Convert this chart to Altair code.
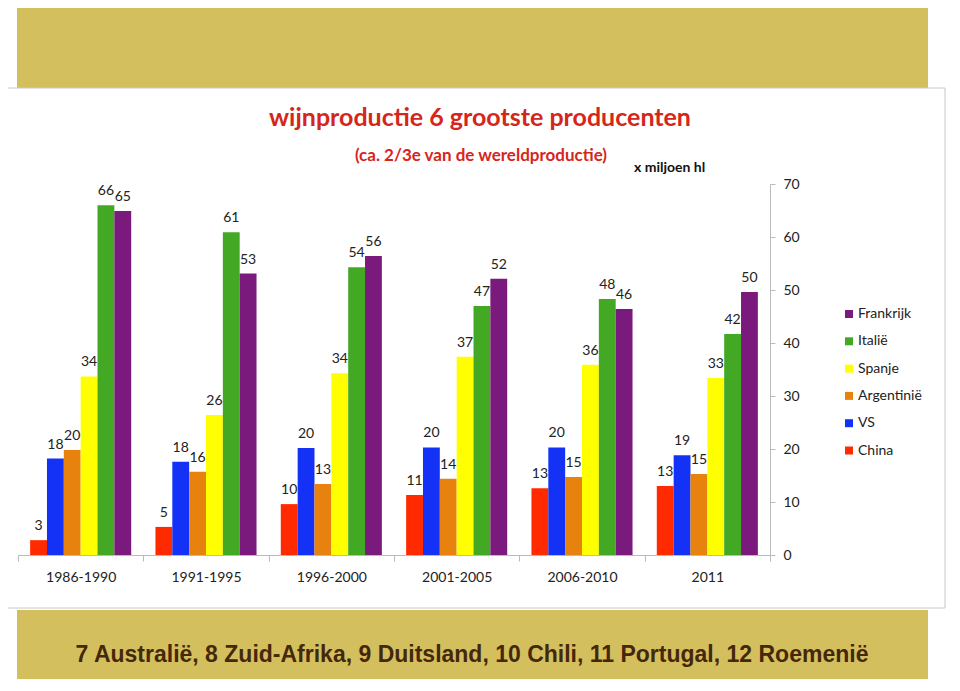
import altair as alt
import pandas as pd

periods = ["1986-1990", "1991-1995", "1996-2000", "2001-2005", "2006-2010", "2011"]
bar_order = ["China", "VS", "Argentinië", "Spanje", "Italië", "Frankrijk"]
legend_order = ["Frankrijk", "Italië", "Spanje", "Argentinië", "VS", "China"]
legend_colors = ["#7A1A7C", "#43A824", "#FFFF00", "#E8820E", "#1432F5", "#FF2A00"]

china = [2.8, 5.3, 9.6, 11.3, 12.6, 13.0]
vs = [18.2, 17.6, 20.2, 20.3, 20.3, 18.8]
argentinie = [19.8, 15.7, 13.4, 14.4, 14.7, 15.3]
spanje = [33.7, 26.4, 34.3, 37.4, 35.9, 33.4]
italie = [66.0, 60.9, 54.3, 47.0, 48.3, 41.7]
frankrijk = [64.9, 53.1, 56.4, 52.1, 46.4, 49.6]

series = {
    "China": china,
    "VS": vs,
    "Argentinië": argentinie,
    "Spanje": spanje,
    "Italië": italie,
    "Frankrijk": frankrijk,
}

title_text = "wijnproductie 6 grootste producenten"
subtitle_text = "(ca. 2/3e van de wereldproductie)"
unit_text = "x miljoen hl"
footer_text = "7 Australië, 8 Zuid-Afrika, 9 Duitsland, 10 Chili, 11 Portugal, 12 Roemenië"

rows = []
for country, vals in series.items():
    for p, v in zip(periods, vals):
        rows.append({"period": p, "country": country, "value": v})
df = pd.DataFrame(rows)

GOLD = "#D4BF5F"
FONT = "Lato"

W, H = 752, 371
PAD_L, PAD_T = 10, 176
TOTAL_W, TOTAL_H = 942, 671

one = pd.DataFrame({"k": [0]})

top_band = alt.Chart(one).mark_rect(color=GOLD).encode(
    x=alt.value(-1), x2=alt.value(910), y=alt.value(-180), y2=alt.value(-96)
)
panel = alt.Chart(one).mark_rect(fill="white", stroke="#C8C8C8", strokeWidth=1).encode(
    x=alt.value(-15), x2=alt.value(927), y=alt.value(-96), y2=alt.value(424)
)
bottom_band = alt.Chart(one).mark_rect(color=GOLD).encode(
    x=alt.value(-1), x2=alt.value(910), y=alt.value(426), y2=alt.value(520)
)

title = alt.Chart(one).mark_text(
    font=FONT, fontSize=25, fontWeight="bold", color="#D5261B", align="center", baseline="middle"
).encode(x=alt.value(462), y=alt.value(-66), text=alt.value(title_text))
subtitle = alt.Chart(one).mark_text(
    font=FONT, fontSize=17, fontWeight="bold", color="#D5261B", align="center", baseline="middle"
).encode(x=alt.value(463), y=alt.value(-28), text=alt.value(subtitle_text))
unit = alt.Chart(one).mark_text(
    font=FONT, fontSize=14, fontWeight="bold", color="#111111", align="left", baseline="middle"
).encode(x=alt.value(616), y=alt.value(-16), text=alt.value(unit_text))
footer = alt.Chart(one).mark_text(
    font="Liberation Sans", fontSize=23, fontWeight="bold",
    color="#45280A", align="center", baseline="middle"
).encode(x=alt.value(454), y=alt.value(471), text=alt.value(footer_text))

x_enc = alt.X(
    "period:N", sort=periods, title=None,
    scale=alt.Scale(paddingInner=0, paddingOuter=0),
    axis=alt.Axis(
        labelAngle=0, labelFont=FONT, labelFontSize=14, labelColor="#222222",
        labelPadding=9, domainColor="#BBBBBB", tickColor="#BBBBBB", tickSize=6,
        tickBand="extent", zindex=2,
    ),
)
xoff_enc = alt.XOffset(
    "country:N", sort=bar_order,
    scale=alt.Scale(paddingInner=0, paddingOuter=0.72),
)
y_enc = alt.Y(
    "value:Q", title=None,
    scale=alt.Scale(domain=[0, 70]),
    axis=alt.Axis(
        orient="right", values=list(range(0, 71, 10)), grid=False,
        labelFont=FONT, labelFontSize=14, labelColor="#222222", labelPadding=8,
        domainColor="#BBBBBB", tickColor="#BBBBBB", tickSize=5, zindex=2,
    ),
)
color_enc = alt.Color(
    "country:N",
    scale=alt.Scale(domain=legend_order, range=legend_colors),
    legend=alt.Legend(
        title=None, orient="none", legendX=824, legendY=123,
        symbolType="square", symbolSize=64, symbolStrokeWidth=0,
        labelFont=FONT, labelFontSize=14, labelColor="#222222",
        rowPadding=13.3, labelOffset=2, zindex=2,
    ),
)

bars = alt.Chart(df).mark_bar(strokeWidth=0).encode(
    x=x_enc, xOffset=xoff_enc, y=y_enc, color=color_enc
)
labels = alt.Chart(df).mark_text(
    font=FONT, fontSize=14, color="#222222", baseline="middle", dy=-14
).encode(
    x=alt.X("period:N", sort=periods),
    xOffset=alt.XOffset("country:N", sort=bar_order),
    y=alt.Y("value:Q"),
    text=alt.Text("value:Q", format=".0f"),
)

chart = alt.layer(
    top_band, panel, bottom_band, title, subtitle, unit, footer, bars, labels
).properties(
    width=W, height=H,
    autosize=alt.AutoSizeParams(type="none"),
    padding={"left": PAD_L, "top": PAD_T, "right": TOTAL_W - PAD_L - W, "bottom": TOTAL_H - PAD_T - H},
    background="white",
).configure_view(strokeWidth=0)

chart.save("out.html", embed_options={"renderer": "svg", "actions": False})
